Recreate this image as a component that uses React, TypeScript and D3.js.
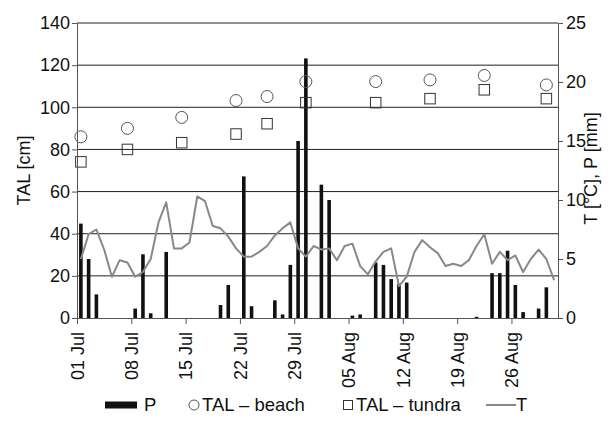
import { useRef, useEffect } from "react";
import * as d3 from "d3";

// daily series, day 0 = 01 Jul
const startDate = Date.UTC(2013, 6, 1);
const nDays = 62;

const temperature = [
  5.0, 7.1, 7.5, 5.8, 3.5, 4.9, 4.7, 3.5, 3.9, 5.0,
  8.1, 9.8, 5.9, 5.9, 6.4, 10.3, 9.9, 7.8, 7.6, 6.9,
  5.9, 5.2, 5.2, 5.6, 6.1, 7.0, 7.6, 8.1, 5.9, 5.2,
  6.1, 5.8, 5.9, 4.9, 6.1, 6.3, 4.4, 3.7, 4.8, 5.6,
  5.9, 2.7, 3.5, 5.6, 6.6, 6.0, 5.5, 4.4, 4.6, 4.4,
  4.9, 6.1, 7.1, 4.6, 5.6, 4.9, 5.3, 3.9, 5.0, 5.8,
  5.0, 3.2,
];

const precipitation = [
  8.0, 5.0, 2.0, 0, 0, 0, 0, 0.8, 5.4, 0.4,
  0, 5.6, 0, 0, 0, 0, 0, 0, 1.1, 2.8,
  0, 12.0, 1.0, 0, 0, 1.5, 0.3, 4.5, 15.0, 22.0,
  0, 11.3, 10.0, 0, 0, 0.2, 0.3, 0, 4.7, 4.5,
  3.3, 2.9, 3.0, 0, 0, 0, 0, 0, 0, 0,
  0, 0.1, 0, 3.8, 3.8, 5.7, 2.8, 0.5, 0, 0.8,
  2.6, 0,
];

const talDays = [0, 6, 13, 20, 24, 29, 38, 45, 52, 60];
const talBeach = [86.0, 90.0, 95.2, 103.2, 105.1, 112.2, 112.2, 113.0, 115.1, 110.6];
const talTundra = [74.1, 80.0, 83.2, 87.3, 92.2, 102.2, 102.2, 104.1, 108.3, 104.1];

const tickDays = [0, 7, 14, 21, 28, 35, 42, 49, 56];
const leftTicks = [0, 20, 40, 60, 80, 100, 120, 140];
const rightTicks = [0, 5, 10, 15, 20, 25];

const FONT = "'Liberation Sans', Arial, sans-serif";

const dayDate = (d: number) => new Date(startDate + d * 86400000);

const App = () => {
  const svgRef = useRef<SVGSVGElement | null>(null);
  const width = 613;
  const height = 422;
  const plot = { left: 77, right: 558, top: 23, bottom: 318 };

  useEffect(() => {
    if (!svgRef.current) return;
    d3.select(svgRef.current).selectAll("*").remove();
    const svg = d3.select(svgRef.current);

    const x = d3.scaleUtc()
      .domain([dayDate(0), dayDate(nDays)])
      .range([plot.left, plot.right]);
    const yLeft = d3.scaleLinear().domain([0, 140]).range([plot.bottom, plot.top]);
    const yRight = d3.scaleLinear().domain([0, 25]).range([plot.bottom, plot.top]);
    const dayW = x(dayDate(1)) - x(dayDate(0));
    const mid = (d: number) => x(dayDate(d)) + dayW / 2;

    // gridlines
    svg.append("g")
      .selectAll("line")
      .data(leftTicks.slice(1))
      .enter()
      .append("line")
      .attr("x1", plot.left)
      .attr("x2", plot.right)
      .attr("y1", d => yLeft(d))
      .attr("y2", d => yLeft(d))
      .attr("stroke", "#222")
      .attr("stroke-width", 1);

    // bars
    const barW = 3.6;
    svg.append("g")
      .selectAll("rect")
      .data(precipitation.map((v, i) => ({ v, i })).filter(d => d.v > 0))
      .enter()
      .append("rect")
      .attr("x", d => mid(d.i) - barW / 2)
      .attr("width", barW)
      .attr("y", d => yRight(d.v))
      .attr("height", d => plot.bottom - yRight(d.v))
      .attr("fill", "#111");

    // temperature line
    const line = d3.line<number>()
      .x((_, i) => mid(i))
      .y(d => yRight(d));
    svg.append("path")
      .datum(temperature)
      .attr("d", line)
      .attr("fill", "none")
      .attr("stroke", "#888")
      .attr("stroke-width", 2)
      .attr("stroke-linejoin", "round");

    // TAL markers
    svg.append("g")
      .selectAll("circle")
      .data(talDays)
      .enter()
      .append("circle")
      .attr("cx", d => mid(d))
      .attr("cy", (_, i) => yLeft(talBeach[i]))
      .attr("r", 6)
      .attr("fill", "none")
      .attr("stroke", "#555")
      .attr("stroke-width", 1);

    const sq = 10.5;
    svg.append("g")
      .selectAll("rect")
      .data(talDays)
      .enter()
      .append("rect")
      .attr("x", d => mid(d) - sq / 2)
      .attr("y", (_, i) => yLeft(talTundra[i]) - sq / 2)
      .attr("width", sq)
      .attr("height", sq)
      .attr("fill", "none")
      .attr("stroke", "#333")
      .attr("stroke-width", 1);

    // axes
    const styleAxis = (g: d3.Selection<SVGGElement, unknown, null, undefined>) => {
      g.selectAll("path").attr("stroke", "#555");
      g.selectAll("line").attr("stroke", "#555");
      g.selectAll("text")
        .attr("fill", "#111")
        .attr("font-family", FONT)
        .attr("font-size", 18);
    };

    svg.append("g")
      .attr("transform", `translate(${plot.left},0)`)
      .call(d3.axisLeft(yLeft).tickValues(leftTicks).tickSize(5).tickSizeOuter(0).tickPadding(2))
      .call(styleAxis);

    svg.append("g")
      .attr("transform", `translate(${plot.right},0)`)
      .call(d3.axisRight(yRight).tickValues(rightTicks).tickSize(5).tickSizeOuter(0).tickPadding(3))
      .call(styleAxis);

    const xAxis = svg.append("g")
      .attr("transform", `translate(0,${plot.bottom})`)
      .call(d3.axisBottom(x)
        .tickValues(tickDays.map(dayDate))
        .tickFormat(d => d3.utcFormat("%d %b")(d as Date))
        .tickSize(6)
        .tickSizeOuter(0))
      .call(styleAxis);
    xAxis.selectAll("text")
      .attr("transform", "rotate(-90)")
      .attr("text-anchor", "end")
      .attr("x", -14)
      .attr("y", 0)
      .attr("dy", "0.35em");

    // axis titles
    svg.append("text")
      .attr("transform", `translate(30,${(plot.top + plot.bottom) / 2}) rotate(-90)`)
      .attr("text-anchor", "middle")
      .attr("font-family", FONT)
      .attr("font-size", 18)
      .attr("fill", "#111")
      .text("TAL [cm]");

    svg.append("text")
      .attr("transform", `translate(597,${(plot.top + plot.bottom) / 2 - 2}) rotate(-90)`)
      .attr("text-anchor", "middle")
      .attr("font-family", FONT)
      .attr("font-size", 18)
      .attr("fill", "#111")
      .text("T [°C], P [mm]");

    // legend
    const ly = 411;
    const lc = 405;
    const legend = svg.append("g")
      .attr("font-family", FONT)
      .attr("font-size", 18.5)
      .attr("fill", "#111");
    legend.append("rect")
      .attr("x", 105).attr("y", lc - 3.5).attr("width", 32).attr("height", 7)
      .attr("fill", "#111");
    legend.append("text").attr("x", 144).attr("y", ly).text("P");
    legend.append("circle")
      .attr("cx", 194).attr("cy", lc).attr("r", 5)
      .attr("fill", "none").attr("stroke", "#555");
    legend.append("text").attr("x", 202).attr("y", ly).text("TAL – beach");
    legend.append("rect")
      .attr("x", 343.5).attr("y", lc - 4.5).attr("width", 9).attr("height", 9)
      .attr("fill", "none").attr("stroke", "#333");
    legend.append("text").attr("x", 356).attr("y", ly).text("TAL – tundra");
    legend.append("line")
      .attr("x1", 486).attr("x2", 516).attr("y1", lc).attr("y2", lc)
      .attr("stroke", "#888").attr("stroke-width", 2);
    legend.append("text").attr("x", 516).attr("y", ly).text("T");
  }, []);

  return (
    <svg
      ref={svgRef}
      width={width}
      height={height}
      viewBox={`0 0 ${width} ${height}`}
      style={{ position: "absolute", left: 0, top: 0, background: "#fff" }}
    ></svg>
  );
};

export default App;
